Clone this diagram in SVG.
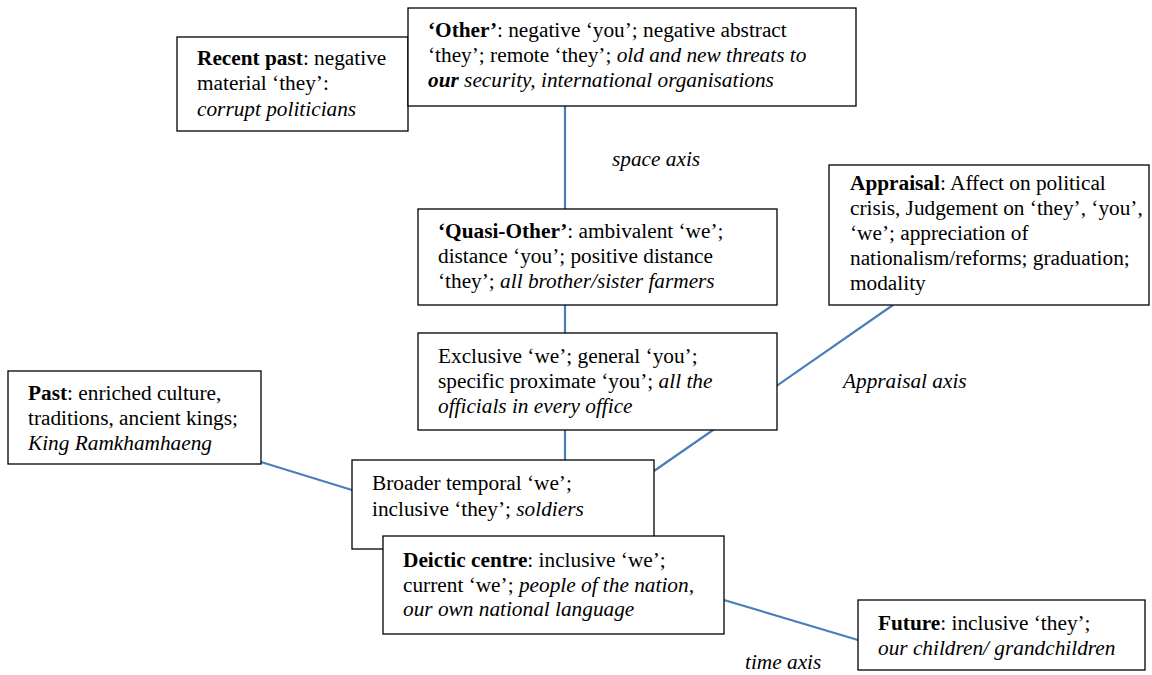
<svg xmlns="http://www.w3.org/2000/svg" width="1152" height="675" viewBox="0 0 1152 675">
  <style>
    .box { fill: #ffffff; stroke: #000000; stroke-width: 1.3; }
    .axis { stroke: #4a7ebb; stroke-width: 2.2; fill: none; }
    text { font-family: "Liberation Serif", "Times New Roman", serif; font-size: 21.3px; fill: #000000; }
    .b { font-weight: bold; }
    .i { font-style: italic; }
  </style>
  <rect width="1152" height="675" fill="#ffffff"/>

  <!-- axes -->
  <g id="connectors">
    <line class="axis" x1="565" y1="106" x2="565" y2="460"/>
    <line class="axis" x1="893" y1="305" x2="654" y2="471"/>
    <line class="axis" x1="261" y1="462" x2="352" y2="490"/>
    <line class="axis" x1="724" y1="600" x2="858" y2="640"/>
  </g>

  <!-- axis labels -->
  <g id="axis-labels">
    <text class="i" x="612" y="166">space axis</text>
    <text class="i" x="843" y="388">Appraisal axis</text>
    <text class="i" x="745" y="669">time axis</text>
  </g>

  <g id="recent-past">
    <rect class="box" x="177" y="37" width="231" height="94"/>
    <text x="197" y="65"><tspan class="b">Recent past</tspan>: negative</text>
    <text x="197" y="90">material ‘they’:</text>
    <text x="197" y="116" class="i">corrupt politicians</text>
  </g>

  <g id="other">
    <rect class="box" x="408" y="8" width="448" height="98"/>
    <text x="428" y="37"><tspan class="b">‘Other’</tspan>: negative ‘you’; negative abstract</text>
    <text x="428" y="62">‘they’; remote ‘they’; <tspan class="i">old and new threats to</tspan></text>
    <text x="428" y="87" class="i"><tspan class="b">our</tspan> security, international organisations</text>
  </g>

  <g id="quasi-other">
    <rect class="box" x="418" y="209" width="359" height="96"/>
    <text x="438" y="238"><tspan class="b">‘Quasi-Other’</tspan>: ambivalent ‘we’;</text>
    <text x="438" y="263">distance ‘you’; positive distance</text>
    <text x="438" y="288">‘they’; <tspan class="i">all brother/sister farmers</tspan></text>
  </g>

  <g id="appraisal">
    <rect class="box" x="829" y="165" width="320" height="140"/>
    <text x="850" y="190"><tspan class="b">Appraisal</tspan>: Affect on political</text>
    <text x="850" y="215">crisis, Judgement on ‘they’, ‘you’,</text>
    <text x="850" y="240">‘we’; appreciation of</text>
    <text x="850" y="265">nationalism/reforms; graduation;</text>
    <text x="850" y="290">modality</text>
  </g>

  <g id="exclusive">
    <rect class="box" x="418" y="333" width="359" height="97"/>
    <text x="438" y="363">Exclusive ‘we’; general ‘you’;</text>
    <text x="438" y="388">specific proximate ‘you’; <tspan class="i">all the</tspan></text>
    <text x="438" y="413" class="i">officials in every office</text>
  </g>

  <g id="past">
    <rect class="box" x="8" y="371" width="253" height="93"/>
    <text x="28" y="400"><tspan class="b">Past</tspan>: enriched culture,</text>
    <text x="28" y="425">traditions, ancient kings;</text>
    <text x="28" y="450" class="i">King Ramkhamhaeng</text>
  </g>

  <g id="broader">
    <rect class="box" x="352" y="460" width="302" height="89"/>
    <text x="372" y="490">Broader temporal ‘we’;</text>
    <text x="372" y="516">inclusive ‘they’; <tspan class="i">soldiers</tspan></text>
  </g>

  <g id="deictic-centre">
    <rect class="box" x="383" y="536" width="341" height="98"/>
    <text x="403" y="567"><tspan class="b">Deictic centre</tspan>: inclusive ‘we’;</text>
    <text x="403" y="592">current ‘we’; <tspan class="i">people of the nation,</tspan></text>
    <text x="403" y="616" class="i">our own national language</text>
  </g>

  <g id="future">
    <rect class="box" x="858" y="600" width="287" height="70"/>
    <text x="878" y="630"><tspan class="b">Future</tspan>: inclusive ‘they’;</text>
    <text x="878" y="655" class="i">our children/ grandchildren</text>
  </g>
</svg>
